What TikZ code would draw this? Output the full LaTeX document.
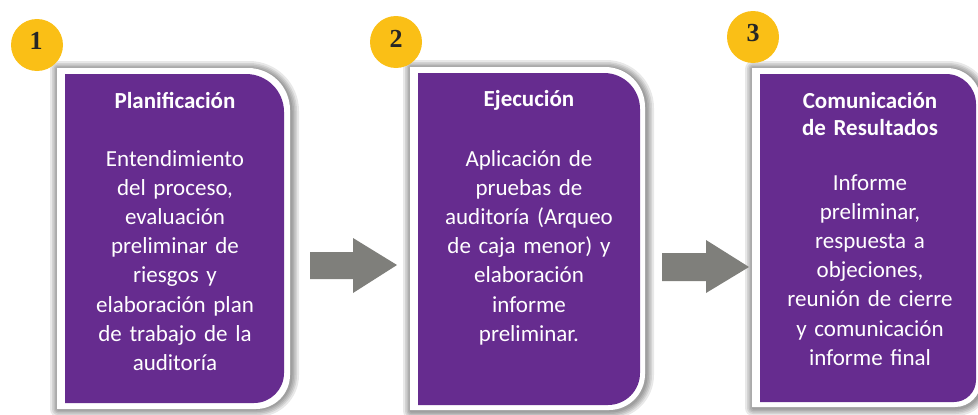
\documentclass[tikz,border=0pt]{standalone}
\usepackage{fontspec}
\setmainfont{Carlito}
\newfontfamily\numfont{Liberation Serif}
\definecolor{purp}{RGB}{102,44,143}
\definecolor{gold}{RGB}{250,191,22}
\definecolor{agray}{RGB}{127,127,123}
\newcommand{\shp}[6]{(#1,#2) -- ({#3-#5},#2) .. controls ({#3-0.4477*#5},#2) and (#3,{#2+0.4477*#5}) .. (#3,{#2+#5}) -- (#3,{#4-#6}) .. controls (#3,{#4-0.4477*#6}) and ({#3-0.4477*#6},#4) .. ({#3-#6},#4) -- (#1,#4) -- cycle}
\tikzset{
  glow/.style={draw=black, opacity=0.09, line join=round},
  frm/.style={fill=white},
  pbox/.style={fill=purp},
  numc/.style={circle, fill=gold, minimum size=52pt, inner sep=0pt},
  numt/.style={font=\numfont\bfseries\fontsize{26}{26}\selectfont, text=black!85},
  ttl/.style={font=\bfseries\fontsize{23}{27.5}\selectfont, text=white, text width=215pt, align=center, anchor=base, inner sep=0pt},
  body/.style={font=\fontsize{23}{29.2}\selectfont, text=white, text width=215pt, align=center, anchor=base, inner sep=0pt},
  barrow/.style={fill=agray}
}
\begin{document}
\begin{tikzpicture}[x=1pt,y=-1pt]
\useasboundingbox (0,0) rectangle (978,415);
% glows
\foreach \w in {16,12,9,6,3}{
  \draw[glow, line width=\w pt] \shp{58}{69}{291}{409}{42}{34};
  \draw[glow, line width=\w pt] \shp{411}{68}{646}{411}{40}{36};
  \draw[glow, line width=\w pt] \shp{753}{69}{982}{408}{34}{26};
}
% white frames
\fill[frm] \shp{57}{68}{290}{409}{42}{34};
\fill[frm] \shp{410}{67}{645}{410}{40}{36};
\fill[frm] \shp{752}{68}{981}{407}{34}{26};
% purple boxes
\fill[pbox] \shp{65}{74}{284}{403}{38}{30};
\fill[pbox] \shp{418}{73}{640}{405}{36}{32};
\fill[pbox] \shp{760}{74}{976}{402}{30}{22};
% number circles
\node[numc] (c1) at (37,45) {};
\node[numt] (n1) at (36,41) {1};
\node[numc] (c2) at (396,42) {};
\node[numt] (n2) at (396,39) {2};
\node[numc] (c3) at (753,37) {};
\node[numt] (n3) at (753,33) {3};
% texts
\node[ttl] (t1) at (175,108) {Planificación};
\node[body] (b1) at (175,166) {Entendimiento\\del proceso,\\evaluación\\preliminar de\\riesgos y\\elaboración plan\\de trabajo de la\\auditoría};
\node[ttl] (t2) at (529,106) {Ejecución};
\node[body] (b2) at (529,166) {Aplicación de\\pruebas de\\auditoría (Arqueo\\de caja menor) y\\elaboración\\informe\\preliminar.};
\node[ttl] (t3) at (870,108) {Comunicación\\de Resultados};
\node[body] (b3) at (870,190) {Informe\\preliminar,\\respuesta a\\objeciones,\\reunión de cierre\\y comunicación\\informe final};
% block arrows
\fill[barrow] (310,252) -- (353,252) -- (353,238) -- (397,265) -- (353,293) -- (353,279) -- (310,279) -- cycle;
\fill[barrow] (662,253) -- (706,253) -- (706,240) -- (749,267) -- (706,293) -- (706,281) -- (662,281) -- cycle;
\end{tikzpicture}
\end{document}
